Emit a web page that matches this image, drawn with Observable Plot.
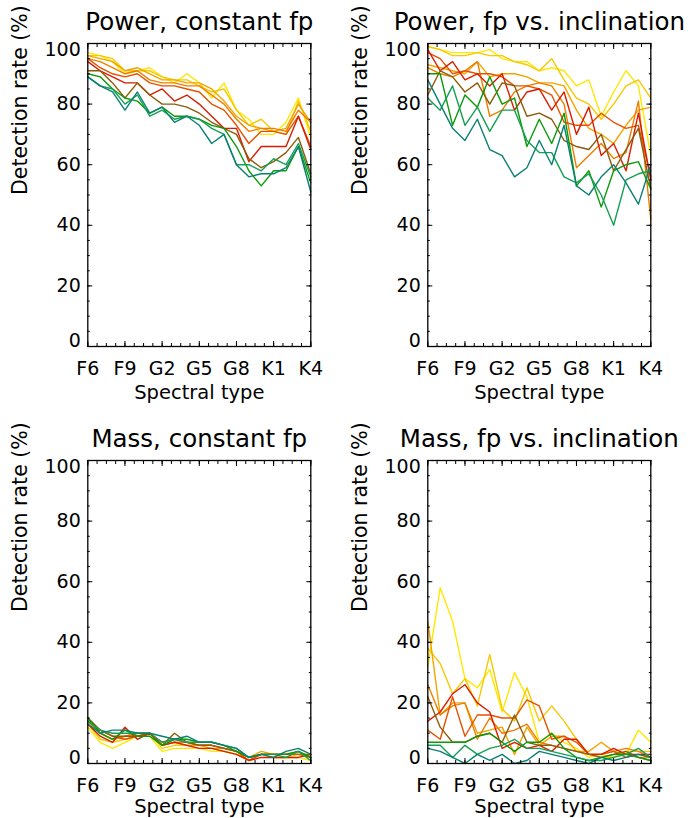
<!DOCTYPE html>
<html><head><meta charset="utf-8">
<script src="https://cdn.jsdelivr.net/npm/d3@7"></script>
<script src="https://cdn.jsdelivr.net/npm/@observablehq/plot@0.6"></script>
<style>
body{margin:0;background:#fff;}
#wrap{position:relative;width:689px;height:818px;overflow:hidden;background:#fff;}
#wrap svg{position:absolute;overflow:visible;}
</style></head><body><div id="wrap"></div>
<script>
const spectralTypes = ["F6","F7","F8","F9","G0","G1","G2","G3","G4","G5","G6","G7","G8","G9","K0","K1","K2","K3","K4"];
const tickLabels = ["F6","F9","G2","G5","G8","K1","K4"];
const yTicks = [0,20,40,60,80,100];
const seriesColors = ["#FFE800","#F8C800","#F2A400","#EE7E00","#E65200","#D81E00","#8C5C08","#0A9A0A","#15A052","#0A8074"];
const panelTitles = ["Power, constant fp","Power, fp vs. inclination","Mass, constant fp","Mass, fp vs. inclination"];
const xLabel = "Spectral type";
const yLabel = "Detection rate (%)";

const powerConstant = [
  [97,96,94,90,91,92,89,87,90,87,82,87,78,75,70,70,74,82,69],
  [96,96,95,91,91,91,89,88,88,86,84,85,78,73,75,71,70,81,71],
  [96,95,94,91,92,90,88,88,87,87,85,81,76,73,72,71,72,80,74],
  [95,94,92,90,91,88,87,87,86,86,83,80,75,71,72,72,71,78,74],
  [95,92,90,89,90,87,86,86,85,84,80,78,73,67,71,71,70,76,66],
  [94,91,89,87,87,83,85,81,83,80,76,72,72,61,66,66,66,76,65],
  [91,91,87,82,87,83,80,80,79,77,74,72,70,62,59,61,64,69,57],
  [90,89,85,82,81,77,79,76,76,75,73,72,66,58,53,58,58,66,54],
  [89,86,85,80,83,76,78,75,76,75,72,70,60,60,58,62,60,67,56],
  [89,86,84,78,84,77,79,74,76,73,67,70,60,56,57,57,59,66,51]
];
const powerInclination = [
  [99,98,97,97,97,98,95,94,94,91,92,91,86,88,76,84,91,86,63],
  [99,98,96,96,97,96,96,94,93,91,95,88,82,80,75,80,86,88,82],
  [93,92,91,90,94,89,90,90,89,87,87,86,78,72,70,67,73,78,79],
  [92,90,89,91,94,76,78,84,86,87,86,80,59,63,67,62,64,81,42],
  [97,95,90,91,90,90,89,86,86,85,83,74,73,73,77,74,72,73,56],
  [98,91,94,88,90,86,90,78,84,85,78,84,70,79,63,67,58,77,55],
  [83,91,89,84,87,80,87,86,76,77,75,68,66,65,70,58,65,72,52],
  [90,90,73,83,79,89,80,82,66,75,67,77,53,58,46,58,60,61,52],
  [82,78,86,73,79,71,78,78,68,64,64,56,54,57,50,40,55,57,58],
  [88,80,72,68,75,65,63,56,59,68,60,73,53,50,56,60,54,47,60]
];
const massConstant = [
  [12,7,5,7,9,9,4,5,5,5,4,4,3,1,3,2,2,2,1],
  [13,8,7,8,9,10,5,6,6,5,5,4,3,1,3,2,2,3,2],
  [14,10,8,9,10,10,6,7,6,6,5,5,4,2,4,3,3,3,3],
  [14,10,8,9,10,10,6,7,7,6,6,5,4,2,3,3,3,3,3],
  [15,11,9,8,9,10,7,8,7,6,6,5,4,1,3,3,3,3,2],
  [13,9,7,12,8,10,6,7,6,5,5,4,3,1,2,2,2,2,3],
  [15,11,9,9,9,10,6,10,7,6,6,5,4,2,3,3,3,4,2],
  [15,10,8,11,9,9,6,8,8,7,7,6,4,2,3,3,3,4,2],
  [14,11,10,10,10,10,7,8,7,7,7,6,5,2,3,3,2,4,1],
  [13,10,11,11,10,10,9,8,9,7,7,6,5,2,3,2,4,5,3]
];
const massInclination = [
  [32,58,47,28,25,31,17,30,22,7,10,7,5,2,3,2,3,11,7],
  [38,33,23,28,19,36,18,14,25,14,19,14,8,3,2,2,4,4,4],
  [47,16,20,20,10,11,12,3,12,6,9,9,4,4,7,4,3,2,2],
  [26,16,19,20,8,15,10,11,13,7,6,5,4,3,3,4,5,4,2],
  [11,8,22,9,16,16,15,15,21,19,8,9,7,3,3,4,2,3,2],
  [14,17,23,26,20,17,5,7,5,6,4,8,8,3,3,5,3,3,3],
  [22,12,7,7,9,10,7,16,7,6,6,5,4,3,2,3,4,2,1],
  [7,7,7,7,9,10,7,4,7,7,10,5,2,1,2,3,3,2,1],
  [6,6,2,6,3,5,6,8,5,5,4,3,2,1,1,2,3,5,2],
  [5,4,2,0,3,1,3,0,1,4,3,2,1,0,2,1,2,3,2]
];

const FONT = "DejaVu Sans";
const wrap = document.getElementById("wrap");

function panel(values, title, left, top, height, xLabelGap) {
  const rows = [];
  values.forEach((ser, s) => ser.forEach((v, i) => rows.push({s, x: i, y: v, c: seriesColors[s]})));
  const xMax = spectralTypes.length - 1;
  const majorX = tickLabels.map(t => spectralTypes.indexOf(t));
  const minorX = d3.range(0, xMax + 0.001, 0.75);
  const minorY = d3.range(0, 101, 5);
  const midY = yTicks.slice(1, -1);
  const W = 345, mL = 87.3, mR = W - 310.3, mT = 43, mB = height - 346;
  const chart = Plot.plot({
    width: W, height,
    marginLeft: mL, marginRight: mR, marginTop: mT, marginBottom: mB,
    x: {domain: [0, xMax]},
    y: {domain: [0, 100]},
    style: {fontFamily: FONT, background: "transparent", overflow: "visible", color: "black"},
    marks: [
      Plot.line(rows, {x: "x", y: "y", z: "s", stroke: "c", strokeWidth: 1.4}),
      Plot.frame({stroke: "black", strokeWidth: 1.3}),
      Plot.axisX({anchor: "bottom", ticks: minorX, tickSize: -3, text: null, label: null, strokeWidth: 1}),
      Plot.axisX({anchor: "top", ticks: minorX, tickSize: -3, text: null, label: null, strokeWidth: 1}),
      Plot.axisX({anchor: "bottom", ticks: majorX, tickSize: -5, text: null, label: null, strokeWidth: 1}),
      Plot.axisX({anchor: "top", ticks: majorX, tickSize: -5, text: null, label: null, strokeWidth: 1}),
      Plot.axisY({anchor: "left", ticks: minorY, tickSize: -2.5, text: null, label: null, strokeWidth: 1}),
      Plot.axisY({anchor: "right", ticks: minorY, tickSize: -2.5, text: null, label: null, strokeWidth: 1}),
      Plot.axisY({anchor: "left", ticks: yTicks, tickSize: -5, text: null, label: null, strokeWidth: 1}),
      Plot.axisY({anchor: "right", ticks: yTicks, tickSize: -5, text: null, label: null, strokeWidth: 1}),
      Plot.axisX({anchor: "bottom", ticks: majorX, tickFormat: i => spectralTypes[i], tickSize: 0, tickPadding: 15, fontSize: 19, label: null}),
      Plot.axisY({anchor: "left", ticks: midY, tickSize: 0, tickPadding: 7, fontSize: 19, label: null}),
      Plot.axisY({anchor: "left", ticks: [yTicks[0]], tickSize: 0, tickPadding: 7, fontSize: 19, label: null, dy: -6}),
      Plot.axisY({anchor: "left", ticks: [yTicks[yTicks.length - 1]], tickSize: 0, tickPadding: 7, fontSize: 19, label: null, dy: 6}),
      Plot.text([title], {text: d => d, frameAnchor: "top", lineAnchor: "middle", dy: -21, fontSize: 24.5}),
      Plot.text([xLabel], {text: d => d, frameAnchor: "bottom", lineAnchor: "middle", dy: xLabelGap, fontSize: 19.5}),
      Plot.text([yLabel], {text: d => d, frameAnchor: "left", lineAnchor: "middle", rotate: -90, dx: -67, fontSize: 20.5})
    ]
  });
  chart.style.left = left + "px";
  chart.style.top = top + "px";
  wrap.appendChild(chart);
}

panel(powerConstant, panelTitles[0], 0, 0, 409, 46);
panel(powerInclination, panelTitles[1], 340, 0, 409, 46);
panel(massConstant, panelTitles[2], 0, 417, 401, 43);
panel(massInclination, panelTitles[3], 340, 417, 401, 43);
</script>
</body></html>
